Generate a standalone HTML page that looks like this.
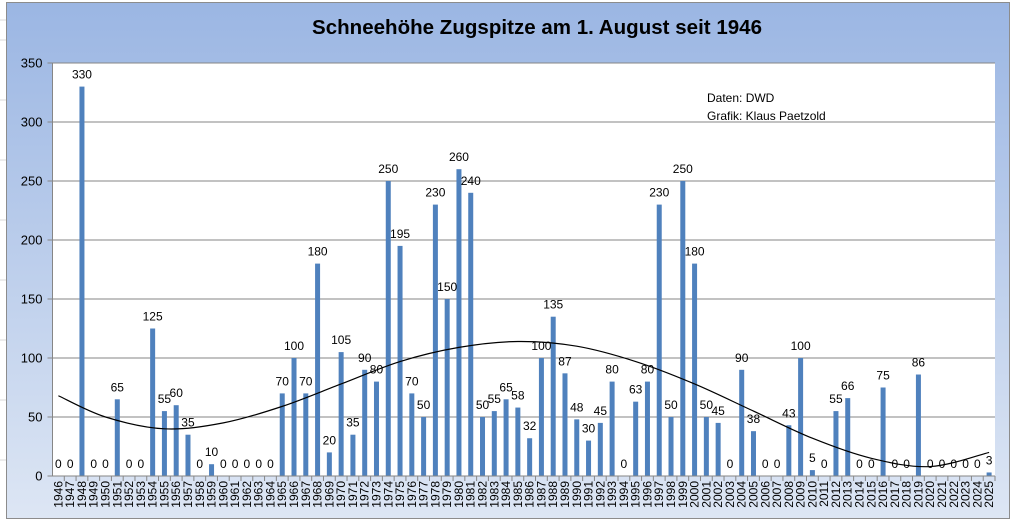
<!DOCTYPE html>
<html><head><meta charset="utf-8"><style>
body{margin:0;width:1012px;height:522px;overflow:hidden;background:#fff;font-family:"Liberation Sans",sans-serif}
</style></head><body>
<svg width="1012" height="522" id="c" xmlns="http://www.w3.org/2000/svg">
<defs><linearGradient id="bg" x1="0" y1="0" x2="0" y2="1"><stop offset="0" stop-color="#9bb6e3"/><stop offset="1" stop-color="#dde6f4"/></linearGradient></defs>
<g stroke="#d9d9d9"><line x1="0" y1="20" x2="6" y2="20"/><line x1="0" y1="40" x2="6" y2="40"/><line x1="0" y1="100" x2="6" y2="100"/><line x1="0" y1="160" x2="6" y2="160"/><line x1="0" y1="220" x2="6" y2="220"/><line x1="0" y1="280" x2="6" y2="280"/><line x1="0" y1="340" x2="6" y2="340"/><line x1="0" y1="400" x2="6" y2="400"/><line x1="0" y1="460" x2="6" y2="460"/></g>
<rect x="6.5" y="2.5" width="1003" height="516" fill="url(#bg)" stroke="#8c8c8c"/>
<rect x="52.5" y="63" width="942.5" height="413" fill="#fff"/>
<text x="537" y="34" text-anchor="middle" font-size="20.5" font-weight="bold" fill="#000" textLength="450">Schneehöhe Zugspitze am 1. August seit 1946</text>
<text x="707" y="102" font-size="12">Daten: DWD</text>
<text x="707" y="120" font-size="12">Grafik: Klaus Paetzold</text>
<g id="grid"></g><g id="bars"></g><g id="labels"></g><g id="axes"></g><g id="trend"></g>
</svg>
<script>
const years=[];for(let y=1946;y<=2025;y++)years.push(String(y));
const snow=[0,0,330,0,0,65,0,0,125,55,60,35,0,10,0,0,0,0,0,70,100,70,180,20,105,35,90,80,250,195,70,50,230,150,260,240,50,55,65,58,32,100,135,87,48,30,45,80,0,63,80,230,50,250,180,50,45,0,90,38,0,0,43,100,5,0,55,66,0,0,75,0,0,86,0,0,0,0,0,3];
const yTicks=[0,50,100,150,200,250,300,350];
const trendYears=[1946,1950,1955,1960,1965,1970,1975,1980,1985,1990,1995,2000,2005,2010,2015,2020,2025];
const trendVals=[68,50,40,45,59,78,97,109,114,110,97,78,55,32,15,8,20];
const NS="http://www.w3.org/2000/svg";
const X0=52.5,X1=995,Y0=476,Y1=63,YMAX=350;
const bw=(X1-X0)/years.length;
const xc=i=>X0+bw*(i+0.5);
const xy=yr=>X0+bw*(yr-1946+0.5);
const yv=v=>Y0-(Y0-Y1)*v/YMAX;
function mk(t,a,p){const e=document.createElementNS(NS,t);for(const k in a)e.setAttribute(k,a[k]);document.getElementById(p).appendChild(e);return e;}
yTicks.forEach(t=>{
 const l=mk('line',{x1:X0-5,x2:X1,y1:yv(t),y2:yv(t),stroke:'#868686','stroke-width':1},'grid');
 
 
 const tx=mk('text',{x:X0-10,y:yv(t)+4.5,'text-anchor':'end','font-size':13},'axes');tx.textContent=t;
 
 
});
mk('line',{x1:X0,x2:X0,y1:Y1,y2:Y0,stroke:'#868686'},'axes');
snow.forEach((v,i)=>{
 const x=xc(i);
 if(v>0){const r=mk('rect',{x:x-2.5,y:yv(v),width:5,height:Y0-yv(v),fill:'#4f81bd'},'bars');
 
 }
 const t=mk('text',{x:x,y:yv(v)-8,'text-anchor':'middle','font-size':12},'labels');t.textContent=v;
 
 
 const tk=mk('line',{x1:X0+bw*(i+1),x2:X0+bw*(i+1),y1:Y0,y2:Y0+5,stroke:'#868686'},'axes');
 const yl=mk('text',{x:0,y:0,'text-anchor':'end','font-size':12,transform:`translate(${x+4},${Y0+5}) rotate(-90)`},'axes');yl.textContent=years[i];
 
 
});
mk('line',{x1:X0,x2:X1,y1:Y0,y2:Y0,stroke:'#868686'},'axes');
const pts=trendYears.map((yr,i)=>[xy(yr),yv(trendVals[i])]);
let d='M'+pts[0].join(',');
for(let i=0;i<pts.length-1;i++){const p0=pts[Math.max(0,i-1)],p1=pts[i],p2=pts[i+1],p3=pts[Math.min(pts.length-1,i+2)];
 d+=` C${p1[0]+(p2[0]-p0[0])/6},${p1[1]+(p2[1]-p0[1])/6} ${p2[0]-(p3[0]-p1[0])/6},${p2[1]-(p3[1]-p1[1])/6} ${p2[0]},${p2[1]}`;}
const tr=mk('path',{d:d,fill:'none',stroke:'#000','stroke-width':1.2},'trend');


</script>
</body></html>
